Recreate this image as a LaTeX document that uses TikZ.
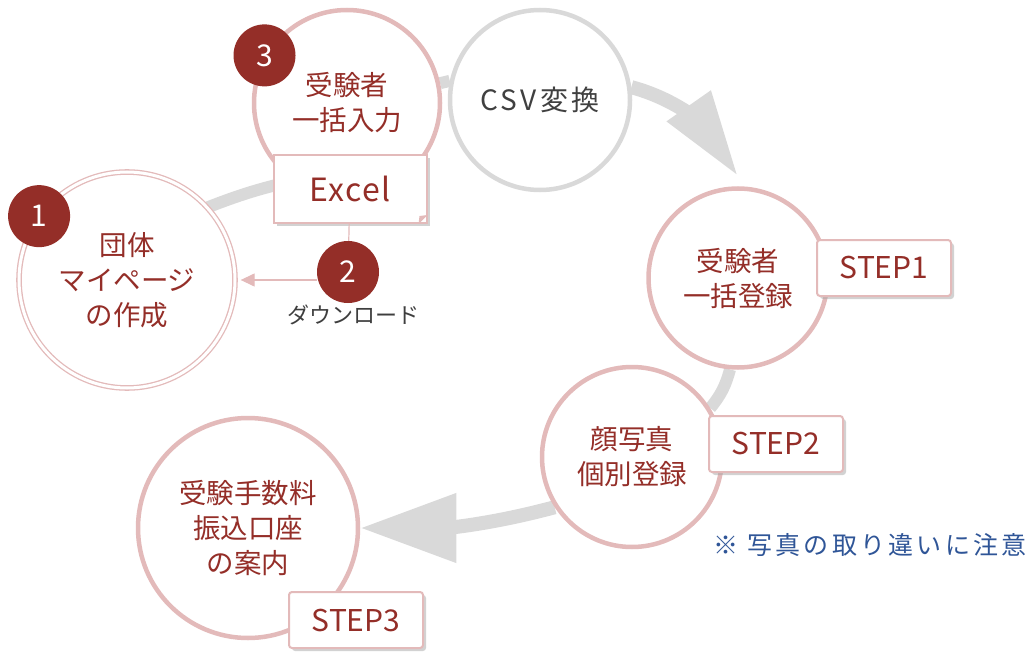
\documentclass[tikz,border=0pt]{standalone}
\usepackage{fontspec}
\setmainfont{Noto Sans CJK JP}
\newfontfamily\csvfont[LetterSpace=12]{Noto Sans CJK JP}
\newfontfamily\notefont[LetterSpace=13]{Noto Sans CJK JP}
\newfontfamily\xlsfont[LetterSpace=5]{Noto Sans CJK JP}
\usepackage{xcolor}
\usetikzlibrary{shapes.geometric, arrows.meta, positioning, shadows, backgrounds}
\definecolor{wine}{RGB}{148,46,40}
\definecolor{blush}{RGB}{227,186,186}
\definecolor{mist}{RGB}{217,217,217}
\definecolor{slate}{RGB}{64,64,64}
\definecolor{ash}{RGB}{62,62,62}
\definecolor{ink}{RGB}{47,85,151}

\begin{document}
\begin{tikzpicture}[
    node distance=200pt,
    stage/.style={circle, minimum size=180pt, inner sep=0pt, text centered, align=center, draw=blush, line width=4.5pt, fill=white, text=wine, font=\fontsize{27.5pt}{35pt}\selectfont},
    origin/.style={stage, minimum size=216pt, line width=1.3pt, double=white, double distance=3pt},
    badge/.style={circle, minimum size=62pt, inner sep=0pt, fill=wine, text=white, font=\fontsize{30pt}{30pt}\selectfont},
    stepbox/.style={rectangle, rounded corners=3pt, minimum width=134pt, minimum height=56pt, text centered, draw=blush, line width=2pt, fill=white, text=wine, font=\fontsize{30pt}{30pt}\selectfont, drop shadow={shadow xshift=3pt, shadow yshift=-3pt, fill=black!35}},
    filebox/.style={stepbox, rounded corners=0pt, minimum width=153pt, minimum height=68pt, font=\fontsize{32pt}{32pt}\xlsfont},
    ring/.style={draw=mist, line width=12pt},
    flow/.style={draw=mist, line width=14pt},
    wire/.style={draw=blush, line width=1.2pt}
]

\useasboundingbox (0,0) rectangle (1033pt,-655pt);

\node (grp) [origin] at (127pt,-280pt) {団体\\マイページ\\の作成};
\node (entry) [stage, minimum size=186pt, right of=grp, xshift=20pt, yshift=177pt] {受験者\\一括入力};
\node (csv) [stage, draw=mist, text=slate, right of=entry, xshift=-7pt, yshift=3pt, font=\fontsize{28pt}{28pt}\csvfont] {CSV変換};
\node (reg) [stage, minimum size=179pt, below of=csv, xshift=198pt, yshift=22pt] {受験者\\一括登録};
\node (photo) [stage, below of=reg, xshift=-106pt, yshift=21pt] {顔写真\\個別登録};
\node (fee) [stage, minimum size=220pt, left of=photo, xshift=-184pt, yshift=-71pt] {受験手数料\\振込口座\\の案内};

\node (n1) [badge] at (grp.144) {1};
\node (n3) [badge] at (entry.150) {3};
\node (xls) [filebox, below of=entry, xshift=3pt, yshift=114pt] {Excel};
\fill [blush] ([xshift=-9pt]xls.south east) -- ([yshift=9pt]xls.south east) -- ([xshift=-8pt,yshift=8pt]xls.south east) -- cycle;
\node (n2) [badge, below of=xls, xshift=-2pt, yshift=117pt] {2};
\node (dl) [below of=n2, xshift=5pt, yshift=157pt, text=ash, font=\fontsize{22pt}{22pt}\selectfont] {ダウンロード};

\node (step1) [stepbox, right of=reg, xshift=-54pt, yshift=10pt] {STEP1};
\node (step2) [stepbox, right of=photo, xshift=-56pt, yshift=13pt] {STEP2};
\node (step3) [stepbox, right of=fee, xshift=-92pt, yshift=-92pt] {STEP3};
\node (note) [right of=photo, xshift=38pt, yshift=-88pt, text=ink, font=\fontsize{25pt}{25pt}\notefont] {※ 写真の取り違いに注意};

\coordinate (tip1) at ([yshift=10pt]reg.north);

\draw [wire] (xls) -- (n2);
\draw [wire, -{Triangle[width=13pt,length=14pt]}, shorten >=5pt] (n2.west |- grp.east) -- (grp.east);

\begin{scope}[on background layer]
\draw [ring] (grp.42) to[bend left=4] (entry.235);
\draw [ring] (entry.12) -- (csv.168);
\draw [flow, -{Triangle[width=50pt,length=86pt]}] (csv.8) to[out=-15, in=125] (tip1);
\draw [ring] (reg.265) to[bend left=12] (photo.32);
\draw [flow, -{Triangle[width=66pt,length=96pt]}] (photo.213) to[out=195, in=0] (fee.east);
\end{scope}

\end{tikzpicture}
\end{document}
